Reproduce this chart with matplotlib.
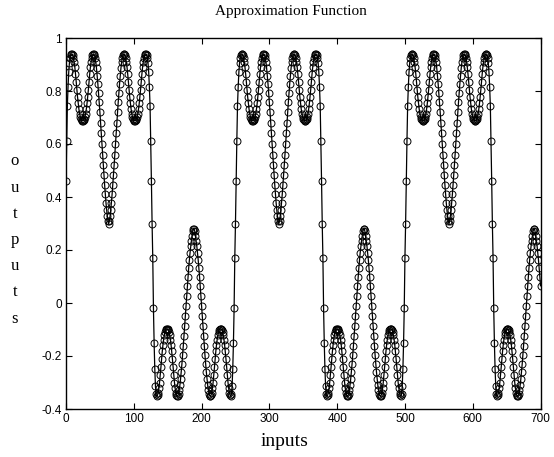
import numpy as np
import matplotlib
matplotlib.use("Agg")
import matplotlib.pyplot as plt

# network output, one value per input step (0..700)
high_1 = [0.46, 0.61, 0.745, 0.815, 0.87, 0.905, 0.925, 0.937, 0.94, 0.94,
          0.935, 0.925, 0.91, 0.89, 0.865, 0.835, 0.805, 0.778, 0.753, 0.732,
          0.715, 0.703, 0.695, 0.69, 0.688, 0.688, 0.69, 0.695, 0.703, 0.715,
          0.732, 0.753, 0.778, 0.805, 0.835, 0.865, 0.89, 0.91, 0.925, 0.935,
          0.94, 0.94, 0.935, 0.925, 0.908, 0.885, 0.858, 0.827, 0.793, 0.757,
          0.72, 0.68, 0.64, 0.60, 0.56, 0.52, 0.482, 0.445, 0.41, 0.378,
          0.35, 0.327, 0.31, 0.298,
          0.31, 0.327, 0.35, 0.378, 0.41, 0.445, 0.482, 0.52, 0.56, 0.60,
          0.64, 0.68, 0.72, 0.757, 0.793, 0.827, 0.858, 0.885, 0.908, 0.925,
          0.935, 0.94, 0.94, 0.935, 0.925, 0.91, 0.89, 0.865, 0.835, 0.805,
          0.778, 0.753, 0.732, 0.715, 0.703, 0.695, 0.69, 0.688, 0.688, 0.69,
          0.695, 0.703, 0.715, 0.732, 0.753, 0.778, 0.805, 0.835, 0.865, 0.89,
          0.91, 0.925, 0.935, 0.94, 0.94, 0.937, 0.925, 0.905, 0.87, 0.815,
          0.745, 0.61, 0.46, 0.30]
low_1 = [0.17, -0.02, -0.15, -0.25, -0.315, -0.345, -0.352, -0.348, -0.338, -0.322,
         -0.30, -0.273, -0.243, -0.212, -0.183, -0.158, -0.138, -0.122, -0.11, -0.102,
         -0.098, -0.097, -0.098, -0.102, -0.11, -0.122, -0.138, -0.158, -0.183, -0.212,
         -0.243, -0.273, -0.30, -0.322, -0.338, -0.348, -0.352, -0.35, -0.342, -0.328,
         -0.31, -0.287, -0.26, -0.23, -0.197, -0.162, -0.125, -0.087, -0.048, -0.01,
         0.028, 0.065, 0.10, 0.133, 0.163, 0.19, 0.214, 0.235, 0.252, 0.27,
         0.28, 0.28, 0.27, 0.252, 0.235, 0.214, 0.19, 0.163, 0.133, 0.10,
         0.065, 0.028, -0.01, -0.048, -0.087, -0.125, -0.162, -0.197, -0.23, -0.26,
         -0.287, -0.31, -0.328, -0.342, -0.35, -0.352, -0.348, -0.338, -0.322, -0.30,
         -0.273, -0.243, -0.212, -0.183, -0.158, -0.138, -0.122, -0.11, -0.102, -0.098,
         -0.097, -0.098, -0.102, -0.11, -0.122, -0.138, -0.158, -0.183, -0.212, -0.243,
         -0.273, -0.30, -0.322, -0.338, -0.348, -0.352, -0.345, -0.315, -0.25, -0.15,
         -0.02, 0.17, 0.30]
high_2 = [0.46, 0.61, 0.745, 0.815, 0.87, 0.905, 0.925, 0.937, 0.94, 0.94,
          0.935, 0.925, 0.91, 0.89, 0.865, 0.835, 0.805, 0.778, 0.753, 0.732,
          0.715, 0.703, 0.695, 0.69, 0.688, 0.688, 0.69, 0.695, 0.703, 0.715,
          0.732, 0.753, 0.778, 0.805, 0.835, 0.865, 0.89, 0.91, 0.925, 0.935,
          0.94, 0.94, 0.935, 0.925, 0.908, 0.885, 0.858, 0.827, 0.793, 0.757,
          0.72, 0.68, 0.64, 0.60, 0.56, 0.52, 0.482, 0.445, 0.41, 0.378,
          0.35, 0.327, 0.31, 0.298,
          0.31, 0.327, 0.35, 0.378, 0.41, 0.445, 0.482, 0.52, 0.56, 0.60,
          0.64, 0.68, 0.72, 0.757, 0.793, 0.827, 0.858, 0.885, 0.908, 0.925,
          0.935, 0.94, 0.94, 0.935, 0.925, 0.91, 0.89, 0.865, 0.835, 0.805,
          0.778, 0.753, 0.732, 0.715, 0.703, 0.695, 0.69, 0.688, 0.688, 0.69,
          0.695, 0.703, 0.715, 0.732, 0.753, 0.778, 0.805, 0.835, 0.865, 0.89,
          0.91, 0.925, 0.935, 0.94, 0.94, 0.937, 0.925, 0.905, 0.87, 0.815,
          0.745, 0.61, 0.46, 0.30]
low_2 = [0.17, -0.02, -0.15, -0.25, -0.315, -0.345, -0.352, -0.348, -0.338, -0.322,
         -0.30, -0.273, -0.243, -0.212, -0.183, -0.158, -0.138, -0.122, -0.11, -0.102,
         -0.098, -0.097, -0.098, -0.102, -0.11, -0.122, -0.138, -0.158, -0.183, -0.212,
         -0.243, -0.273, -0.30, -0.322, -0.338, -0.348, -0.352, -0.35, -0.342, -0.328,
         -0.31, -0.287, -0.26, -0.23, -0.197, -0.162, -0.125, -0.087, -0.048, -0.01,
         0.028, 0.065, 0.10, 0.133, 0.163, 0.19, 0.214, 0.235, 0.252, 0.27,
         0.28, 0.28, 0.27, 0.252, 0.235, 0.214, 0.19, 0.163, 0.133, 0.10,
         0.065, 0.028, -0.01, -0.048, -0.087, -0.125, -0.162, -0.197, -0.23, -0.26,
         -0.287, -0.31, -0.328, -0.342, -0.35, -0.352, -0.348, -0.338, -0.322, -0.30,
         -0.273, -0.243, -0.212, -0.183, -0.158, -0.138, -0.122, -0.11, -0.102, -0.098,
         -0.097, -0.098, -0.102, -0.11, -0.122, -0.138, -0.158, -0.183, -0.212, -0.243,
         -0.273, -0.30, -0.322, -0.338, -0.348, -0.352, -0.345, -0.315, -0.25, -0.15,
         -0.02, 0.17, 0.30]
high_3 = [0.46, 0.61, 0.745, 0.815, 0.87, 0.905, 0.925, 0.937, 0.94, 0.94,
          0.935, 0.925, 0.91, 0.89, 0.865, 0.835, 0.805, 0.778, 0.753, 0.732,
          0.715, 0.703, 0.695, 0.69, 0.688, 0.688, 0.69, 0.695, 0.703, 0.715,
          0.732, 0.753, 0.778, 0.805, 0.835, 0.865, 0.89, 0.91, 0.925, 0.935,
          0.94, 0.94, 0.935, 0.925, 0.908, 0.885, 0.858, 0.827, 0.793, 0.757,
          0.72, 0.68, 0.64, 0.60, 0.56, 0.52, 0.482, 0.445, 0.41, 0.378,
          0.35, 0.327, 0.31, 0.298,
          0.31, 0.327, 0.35, 0.378, 0.41, 0.445, 0.482, 0.52, 0.56, 0.60,
          0.64, 0.68, 0.72, 0.757, 0.793, 0.827, 0.858, 0.885, 0.908, 0.925,
          0.935, 0.94, 0.94, 0.935, 0.925, 0.91, 0.89, 0.865, 0.835, 0.805,
          0.778, 0.753, 0.732, 0.715, 0.703, 0.695, 0.69, 0.688, 0.688, 0.69,
          0.695, 0.703, 0.715, 0.732, 0.753, 0.778, 0.805, 0.835, 0.865, 0.89,
          0.91, 0.925, 0.935, 0.94, 0.94, 0.937, 0.925, 0.905, 0.87, 0.815,
          0.745, 0.61, 0.46, 0.30]
low_3 = [0.17, -0.02, -0.15, -0.25, -0.315, -0.345, -0.352, -0.348, -0.338, -0.322,
         -0.30, -0.273, -0.243, -0.212, -0.183, -0.158, -0.138, -0.122, -0.11, -0.102,
         -0.098, -0.097, -0.098, -0.102, -0.11, -0.122, -0.138, -0.158, -0.183, -0.212,
         -0.243, -0.273, -0.30, -0.322, -0.338, -0.348, -0.352, -0.35, -0.342, -0.328,
         -0.31, -0.287, -0.26, -0.23, -0.197, -0.162, -0.125, -0.087, -0.048, -0.01,
         0.028, 0.065, 0.10, 0.133, 0.163, 0.19, 0.214, 0.235, 0.252, 0.27,
         0.28, 0.28, 0.27, 0.252, 0.235, 0.214, 0.19, 0.163, 0.133, 0.10,
         0.065]

outputs = high_1 + low_1 + high_2 + low_2 + high_3 + low_3
inputs = np.arange(len(outputs))
print("points:", len(outputs))

yticks = [-0.4, -0.2, 0, 0.2, 0.4, 0.6, 0.8, 1]
ytick_labels = ["-0.4", "-0.2", "0", "0.2", "0.4", "0.6", "0.8", "1"]
xticks = [0, 100, 200, 300, 400, 500, 600, 700]

fig = plt.figure(figsize=(5.54, 4.57), dpi=100)
ax = fig.add_axes([66 / 554, 48 / 457, 474.5 / 554, 371 / 457])

ax.plot(inputs, outputs, color="black", linewidth=0.9,
        marker="o", markersize=5, markerfacecolor="none",
        markeredgecolor="black", markeredgewidth=0.7)

ax.set_xlim(0, 700)
ax.set_ylim(-0.4, 1)
ax.set_xticks(xticks)
ax.set_yticks(yticks)
ax.set_yticklabels(ytick_labels)
ax.tick_params(direction="in", top=True, right=True, length=4, width=0.8,
               labelsize=8.5, pad=3)
for lab in ax.get_xticklabels() + ax.get_yticklabels():
    lab.set_fontfamily("Liberation Sans")
for sp in ax.spines.values():
    sp.set_linewidth(1.0)
    sp.set_color("black")

serif = "Liberation Serif"
fig.text(291 / 554, 1 - 11 / 457, "Approximation Function", ha="center",
         va="center", fontsize=11, family=serif)
fig.text(285 / 554, 1 - 442 / 457, "inputs", ha="center", va="center",
         fontsize=14, family=serif)
fig.text(15 / 554, 1 - 240 / 457, "o\nu\nt\np\nu\nt\ns", ha="center",
         va="center", fontsize=12, family=serif, linespacing=1.85)

fig.savefig("out.png", dpi=100)
